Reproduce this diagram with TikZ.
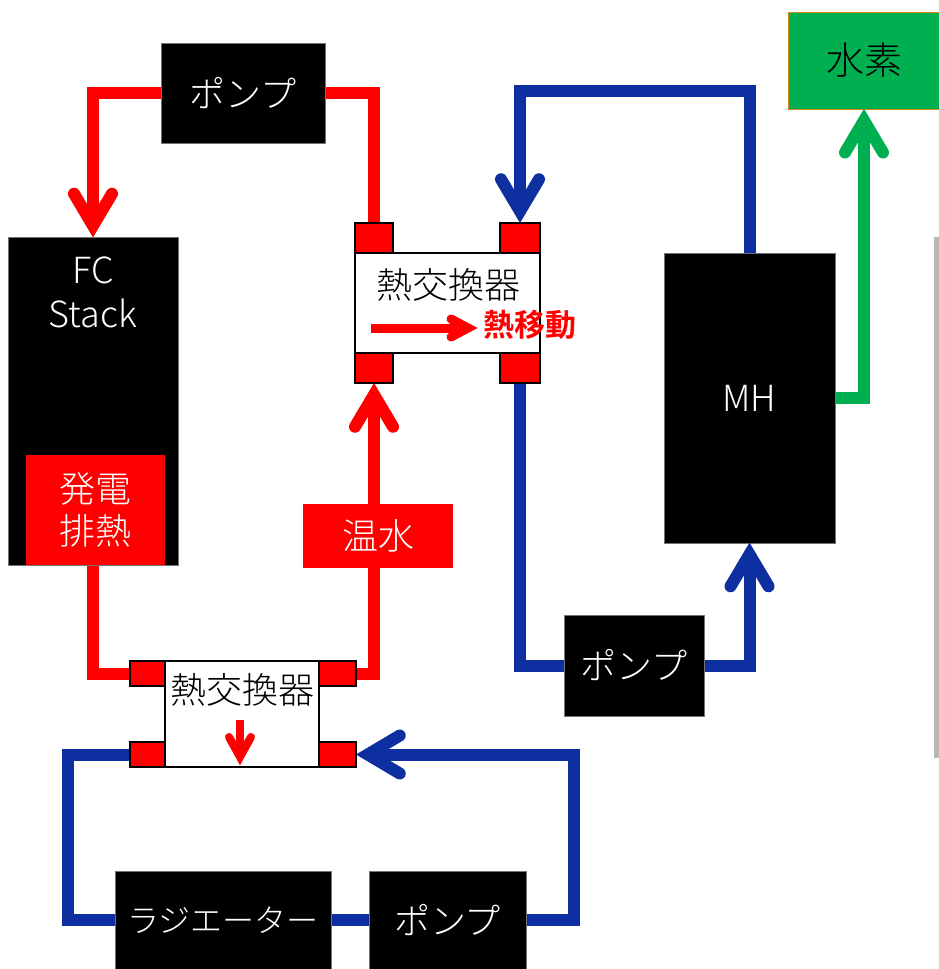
\documentclass[tikz,border=0pt]{standalone}
\usepackage{fontspec}
\setmainfont{Noto Sans CJK JP}[UprightFont={* Light}, BoldFont={* Bold}]
\usetikzlibrary{backgrounds}
\definecolor{hotred}{HTML}{FF0000}
\definecolor{coolblue}{HTML}{0E2FA0}
\definecolor{gasgreen}{HTML}{00B050}
\definecolor{h2edge}{HTML}{D08A1A}
\definecolor{railgray}{HTML}{BAB6AC}

\begin{document}
\begin{tikzpicture}[x=1pt,y=-1pt,
  blk/.style={fill=black, draw=black!55, line width=0.6pt, text=white, inner sep=0pt,
              font=\fontsize{36}{42}\selectfont},
  txt/.style={inner sep=0pt, font=\fontsize{36}{42}\selectfont},
  porttl/.style={fill=hotred, draw=black, line width=1.5pt, inner sep=0pt},
  hxbox/.style={fill=white, draw=black, line width=1.5pt, inner sep=0pt},
  hotpipe/.style={draw=hotred, line width=12pt},
  coolpipe/.style={draw=coolblue, line width=12pt},
  gaspipe/.style={draw=gasgreen, line width=12pt},
  barb/.style={line width=12pt, line cap=round, line join=miter},
]
\useasboundingbox (0,0) rectangle (939,969);

% ---------- equipment ----------
\node[blk, minimum width=164pt, minimum height=100pt] (pump1) at (243,93) {ポンプ};
\node[blk, minimum width=170pt, minimum height=328pt] (fc) at (93,401) {};
\node[txt, text=white] (fcA) at (93,270) {FC};
\node[txt, text=white] (fcB) at (93,313) {Stack};
\node[fill=hotred, text=white, inner sep=0pt, minimum width=139pt, minimum height=110pt,
      align=center, font=\fontsize{36}{42}\selectfont] (heat) at (95.5,510) {発電\\排熱};

% upper heat exchanger
\node[hxbox, minimum width=185pt, minimum height=100pt] (hx1) at (447.5,303) {};
\node[porttl, minimum width=38pt, minimum height=30pt] (hx1tl) at (374,238) {};
\node[porttl, minimum width=40pt, minimum height=30pt] (hx1tr) at (520,238) {};
\node[porttl, minimum width=38pt, minimum height=30pt] (hx1bl) at (374,368) {};
\node[porttl, minimum width=40pt, minimum height=30pt] (hx1br) at (520,368) {};
\node[txt] (hx1t) at (448,285) {熱交換器};
\node[txt, text=hotred, font=\fontsize{31}{36}\selectfont\bfseries] (move) at (529.5,325) {熱移動};

% hot water tag
\node[fill=hotred, text=white, inner sep=0pt, minimum width=150pt, minimum height=64pt,
      font=\fontsize{36}{42}\selectfont] (warm) at (378,536) {温水};

% lower heat exchanger
\node[hxbox, minimum width=154pt, minimum height=106pt] (hx2) at (242,714) {};
\node[porttl, minimum width=35pt, minimum height=25pt] (hx2tl) at (147.5,673.5) {};
\node[porttl, minimum width=37pt, minimum height=25pt] (hx2tr) at (337.5,673.5) {};
\node[porttl, minimum width=35pt, minimum height=25pt] (hx2bl) at (147.5,754.5) {};
\node[porttl, minimum width=37pt, minimum height=25pt] (hx2br) at (337.5,754.5) {};
\node[txt] (hx2t) at (242,690) {熱交換器};

% metal hydride tank and hydrogen outlet
\node[blk, minimum width=171pt, minimum height=290pt] (mh) at (749.5,398) {MH};
\node[fill=gasgreen, draw=h2edge, line width=1pt, inner sep=0pt, minimum width=152pt,
      minimum height=97pt, font=\fontsize{38}{44}\selectfont] (h2) at (864,60.5) {水素};
\node[blk, minimum width=140pt, minimum height=101pt] (pump2) at (634,665.5) {ポンプ};

% radiator loop
\node[blk, minimum width=216pt, minimum height=98pt, font=\fontsize{32}{40}\selectfont] (rad) at (223,920) {ラジエーター};
\node[blk, minimum width=157pt, minimum height=98pt] (pump3) at (447.5,920) {ポンプ};

% side rail
\fill[railgray] (933.5,237) rectangle (939.5,758);

% ---------- piping ----------
\coordinate (bluetop) at (749.5,91);
\coordinate (radturn) at (68,920);
\coordinate (radret) at (574,920);
\begin{scope}[on background layer]
  \draw[hotpipe, shorten >=12pt] (pump1.west) -| (fc.north);
  \draw[hotpipe] (pump1.east) -| (hx1tl.north);
  \draw[hotpipe] (fc.south) |- (hx2tl.west);
  \draw[hotpipe, shorten >=12pt] (hx2tr.east) -| (hx1bl.south);
  \draw[coolpipe, shorten >=12pt] (mh.north) -- (bluetop) -| (hx1tr.north);
  \draw[coolpipe] (hx1br.south) |- (pump2.west);
  \draw[coolpipe, shorten >=12pt] (pump2.east) -| (mh.south);
  \draw[gaspipe, shorten >=12pt] (mh.east) -| (h2.south);
  \draw[coolpipe, shorten >=12pt] (pump3.east) -- (radret) |- (hx2br.east);
  \draw[coolpipe] (pump3.west) -- (rad.east);
  \draw[coolpipe] (rad.west) -- (radturn) |- (hx2bl.west);
\end{scope}

% ---------- arrow heads ----------
\draw[barb, hotred, shift={(fc.north)}, rotate=-90] (-43,19) -- (-11,0) -- (-43,-19);
\draw[barb, hotred, shift={(hx1bl.south)}, rotate=90] (-43,19) -- (-11,0) -- (-43,-19);
\draw[barb, coolblue, shift={(hx1tr.north)}, rotate=-90] (-43,19) -- (-11,0) -- (-43,-19);
\draw[barb, coolblue, shift={(mh.south)}, rotate=90] (-43,19) -- (-11,0) -- (-43,-19);
\draw[barb, gasgreen, shift={(h2.south)}, rotate=90] (-43,19) -- (-11,0) -- (-43,-19);
\draw[barb, coolblue, shift={(hx2br.east)}, rotate=180] (-43,19) -- (-11,0) -- (-43,-19);

% heat transfer direction inside the exchangers
\coordinate (flowAs) at (371,328);
\coordinate (flowAe) at (477,328);
\draw[hotred, line width=9pt, shorten >=9pt] (flowAs) -- (flowAe);
\draw[hotred, line width=9pt, line cap=round, line join=miter, shift={(flowAe)}]
  (-26,9) -- (-9,0) -- (-26,-9);
\coordinate (flowBs) at (240,720);
\coordinate (flowBe) at (240,765);
\draw[hotred, line width=8pt, shorten >=8pt] (flowBs) -- (flowBe);
\draw[hotred, line width=8pt, line cap=round, line join=miter, shift={(flowBe)}, rotate=-90]
  (-28,11) -- (-8,0) -- (-28,-11);
\end{tikzpicture}
\end{document}
